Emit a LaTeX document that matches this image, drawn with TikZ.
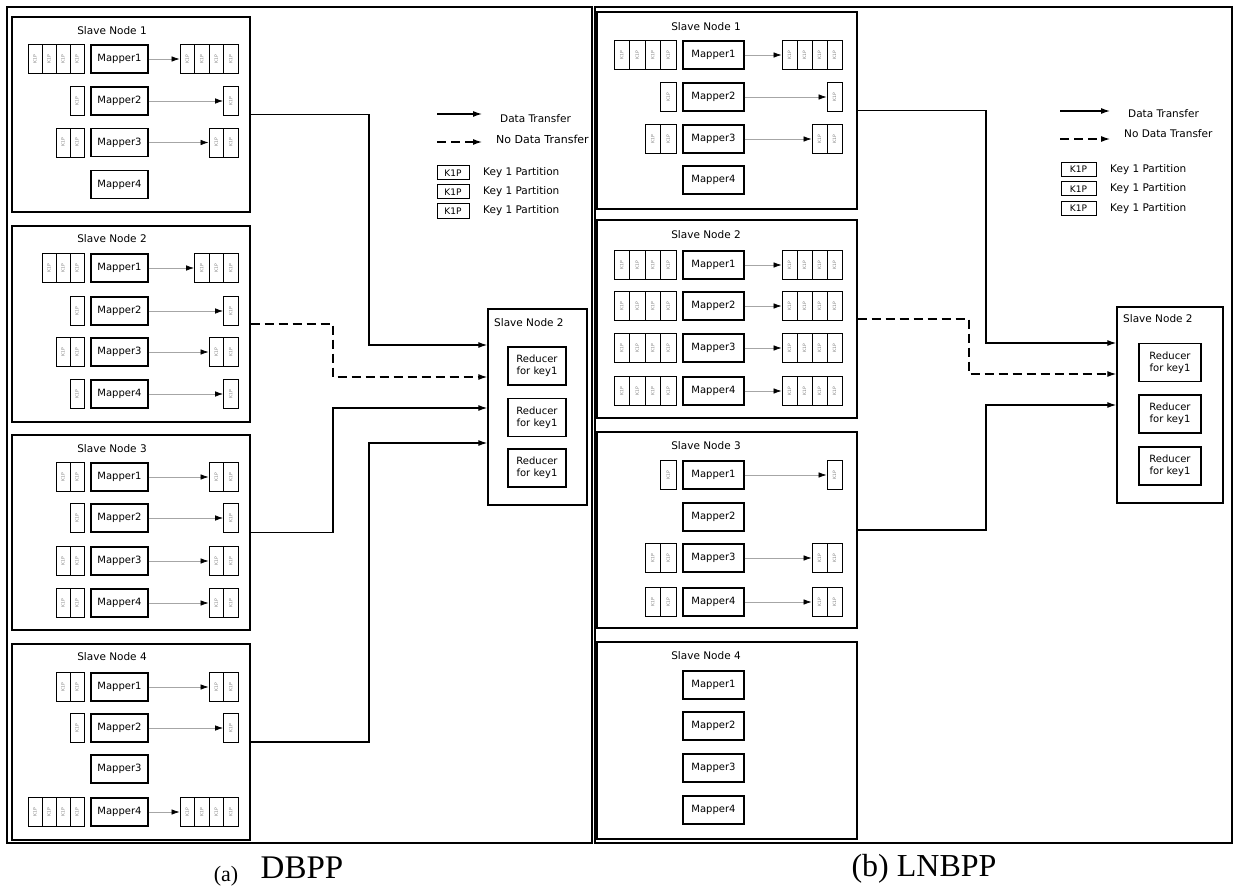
\documentclass[tikz,border=0pt]{standalone}
\usepackage{fontspec}
\setmainfont{DejaVu Sans}
\newfontfamily\capfont{Liberation Serif}
\usepackage{graphicx}
\usetikzlibrary{arrows.meta,calc}

\newcommand\PL{\rotatebox{90}{\fontsize{4.5}{5}\selectfont K1P}}
\newcommand\mrow[5]{%
  \node[mapper, minimum width=\MW] (#1) at (\MX,#3) {#2};
  \ifnum#4>0
    \foreach \i in {1,...,#4}{\node[part, minimum width=\PWI] (#1i\i) at ({\INR-(\i-0.5)*\PWI},#3) {\PL};}
  \fi
  \ifnum#5>0
    \foreach \i in {1,...,#5}{\node[part, minimum width=\PWO] (#1o\i) at ({\OUTR-(#5-\i+0.5)*\PWO},#3) {\PL};}
    \draw[maparrow] (#1.east) -- (#1o1.west);
  \fi
}

\tikzset{
  txt/.style={font=\fontsize{10.5}{12}\selectfont, inner sep=0pt},
  mapper/.style={draw, line width=1.3pt, minimum height=28pt, inner sep=0pt, font=\fontsize{10}{12}\selectfont},
  part/.style={draw, line width=0.9pt, minimum height=29pt, inner sep=0pt, text=gray},
  maparrow/.style={draw=gray!70, line width=0.7pt, -{Latex[length=8pt,width=5.5pt,color=black]}},
  snbox/.style={draw, line width=1.4pt, inner sep=0pt},
  panel/.style={draw, line width=2pt},
  flow/.style={line width=1.2pt, -{Latex[length=9pt,width=6pt]}},
  noflow/.style={flow, dash pattern=on 9pt off 5pt},
  reducer/.style={draw, line width=1.2pt, inner sep=0pt, align=center, font=\fontsize{10}{12}\selectfont},
  keybox/.style={draw, line width=1pt, inner sep=0pt, minimum height=14pt, font=\fontsize{9}{10}\selectfont},
  capt/.style={inner sep=0pt, anchor=base}
}

\begin{document}
\begin{tikzpicture}[x=1pt,y=-1pt]
\useasboundingbox (0,0) rectangle (1235,888);

% ===================== LEFT PANEL (a) =====================
\draw[panel] (7,7) rectangle (592,843);

\node[snbox, minimum width=238, minimum height=195] (L1) at (131,114.5) {};
\node[snbox, minimum width=238, minimum height=196] (L2) at (131,324) {};
\node[snbox, minimum width=238, minimum height=195] (L3) at (131,532.5) {};
\node[snbox, minimum width=238, minimum height=196] (L4) at (131,742) {};

\node[txt] (L1t) at (112,31) {Slave Node 1};
\node[txt] (L2t) at (112,239) {Slave Node 2};
\node[txt] (L3t) at (112,449) {Slave Node 3};
\node[txt] (L4t) at (112,657) {Slave Node 4};

\def\MX{119.5}\def\MW{57}\def\INR{84}\def\OUTR{238}\def\PWI{14}\def\PWO{14.5}
\mrow{L1m1}{Mapper1}{59}{4}{4}
\mrow{L1m2}{Mapper2}{101}{1}{1}
\mrow{L1m3}{Mapper3}{142.5}{2}{2}
\mrow{L1m4}{Mapper4}{184.5}{0}{0}

\mrow{L2m1}{Mapper1}{268}{3}{3}
\mrow{L2m2}{Mapper2}{311}{1}{1}
\mrow{L2m3}{Mapper3}{352}{2}{2}
\mrow{L2m4}{Mapper4}{394}{1}{1}

\mrow{L3m1}{Mapper1}{477}{2}{2}
\mrow{L3m2}{Mapper2}{518}{1}{1}
\mrow{L3m3}{Mapper3}{561}{2}{2}
\mrow{L3m4}{Mapper4}{603}{2}{2}

\mrow{L4m1}{Mapper1}{687}{2}{2}
\mrow{L4m2}{Mapper2}{728}{1}{1}
\mrow{L4m3}{Mapper3}{769}{0}{0}
\mrow{L4m4}{Mapper4}{812}{4}{4}

% reducer node (a)
\node[snbox, minimum width=99, minimum height=196] (LR) at (537.5,407) {};
\node[txt, anchor=west] (LRt) at (494,323) {Slave Node 2};
\node[reducer, minimum width=58, minimum height=38] (LRr1) at (537,366) {Reducer\\for key1};
\node[reducer, minimum width=58, minimum height=38] (LRr2) at (537,417.5) {Reducer\\for key1};
\node[reducer, minimum width=58, minimum height=38] (LRr3) at (537,468) {Reducer\\for key1};

% connectors (a)
\coordinate (la1) at (369,345);
\coordinate (la2) at (333,377);
\coordinate (la3) at (333,408);
\coordinate (la4) at (369,443);
\draw[flow] (L1.east) -| (la1) -- (la1 -| LR.west);
\draw[noflow] (L2.east) -| (la2) -- (la2 -| LR.west);
\draw[flow] (L3.east) -| (la3) -- (la3 -| LR.west);
\draw[flow] (L4.east) -| (la4) -- (la4 -| LR.west);

% legend (a)
\coordinate (lg1s) at (437,114); \coordinate (lg1e) at (482,114);
\coordinate (lg2s) at (437,142); \coordinate (lg2e) at (482,142);
\draw[flow] (lg1s) -- (lg1e);
\draw[noflow] (lg2s) -- (lg2e);
\node[txt, anchor=west] (lg1t) at (500,119) {Data Transfer};
\node[txt, anchor=west, font=\fontsize{11}{12}\selectfont] (lg2t) at (496,139) {No Data Transfer};
\node[keybox, minimum width=32] (lk1) at (453,173) {K1P};
\node[keybox, minimum width=32] (lk2) at (453,192) {K1P};
\node[keybox, minimum width=32] (lk3) at (453,211) {K1P};
\node[txt, anchor=west] (lk1t) at (483,173) {Key 1 Partition};
\node[txt, anchor=west] (lk2t) at (483,192) {Key 1 Partition};
\node[txt, anchor=west] (lk3t) at (483,211) {Key 1 Partition};

% ===================== RIGHT PANEL (b) =====================
\draw[panel, fill=white] (595,7) rectangle (1232,843);

\node[snbox, minimum width=260, minimum height=197] (R1) at (727,110.5) {};
\node[snbox, minimum width=260, minimum height=198] (R2) at (727,319) {};
\node[snbox, minimum width=260, minimum height=196] (R3) at (727,530) {};
\node[snbox, minimum width=260, minimum height=197] (R4) at (727,740.5) {};

\node[txt] (R1t) at (706,27) {Slave Node 1};
\node[txt] (R2t) at (706,235) {Slave Node 2};
\node[txt] (R3t) at (706,446) {Slave Node 3};
\node[txt] (R4t) at (706,656) {Slave Node 4};

\def\MX{713.5}\def\MW{61}\def\INR{676}\def\OUTR{842}\def\PWI{15.5}\def\PWO{15}
\mrow{R1m1}{Mapper1}{55}{4}{4}
\mrow{R1m2}{Mapper2}{97}{1}{1}
\mrow{R1m3}{Mapper3}{139}{2}{2}
\mrow{R1m4}{Mapper4}{180}{0}{0}

\mrow{R2m1}{Mapper1}{265}{4}{4}
\mrow{R2m2}{Mapper2}{306}{4}{4}
\mrow{R2m3}{Mapper3}{348}{4}{4}
\mrow{R2m4}{Mapper4}{391}{4}{4}

\mrow{R3m1}{Mapper1}{475}{1}{1}
\mrow{R3m2}{Mapper2}{517}{0}{0}
\mrow{R3m3}{Mapper3}{558}{2}{2}
\mrow{R3m4}{Mapper4}{602}{2}{2}

\mrow{R4m1}{Mapper1}{685}{0}{0}
\mrow{R4m2}{Mapper2}{726}{0}{0}
\mrow{R4m3}{Mapper3}{768}{0}{0}
\mrow{R4m4}{Mapper4}{810}{0}{0}

% reducer node (b)
\node[snbox, minimum width=106, minimum height=196] (RR) at (1170,405) {};
\node[txt, anchor=west] (RRt) at (1123,319) {Slave Node 2};
\node[reducer, minimum width=62, minimum height=38] (RRr1) at (1170,362.5) {Reducer\\for key1};
\node[reducer, minimum width=62, minimum height=38] (RRr2) at (1170,414) {Reducer\\for key1};
\node[reducer, minimum width=62, minimum height=38] (RRr3) at (1170,466) {Reducer\\for key1};

% connectors (b)
\coordinate (ra1) at (986,343);
\coordinate (ra2) at (969,374);
\coordinate (ra3) at (986,405);
\draw[flow] (R1.east) -| (ra1) -- (ra1 -| RR.west);
\draw[noflow] (R2.east) -| (ra2) -- (ra2 -| RR.west);
\draw[flow] (R3.east) -| (ra3) -- (ra3 -| RR.west);

% legend (b)
\coordinate (rg1s) at (1060,111); \coordinate (rg1e) at (1110,111);
\coordinate (rg2s) at (1060,139); \coordinate (rg2e) at (1110,139);
\draw[flow] (rg1s) -- (rg1e);
\draw[noflow] (rg2s) -- (rg2e);
\node[txt, anchor=west] (rg1t) at (1128,114) {Data Transfer};
\node[txt, anchor=west] (rg2t) at (1124,134) {No Data Transfer};
\node[keybox, minimum width=35] (rk1) at (1078.5,169.5) {K1P};
\node[keybox, minimum width=35] (rk2) at (1078.5,189) {K1P};
\node[keybox, minimum width=35] (rk3) at (1078.5,208.5) {K1P};
\node[txt, anchor=west] (rk1t) at (1110,169.5) {Key 1 Partition};
\node[txt, anchor=west] (rk2t) at (1110,189) {Key 1 Partition};
\node[txt, anchor=west] (rk3t) at (1110,208.5) {Key 1 Partition};

% captions
\node[capt, font=\capfont\fontsize{22}{24}\selectfont] (capa) at (226,881) {(a)};
\node[capt, font=\capfont\fontsize{33}{36}\selectfont] (capb) at (302,878) {DBPP};
\node[capt, font=\capfont\fontsize{32}{36}\selectfont] (capc) at (924,876) {(b) LNBPP};
\end{tikzpicture}
\end{document}
